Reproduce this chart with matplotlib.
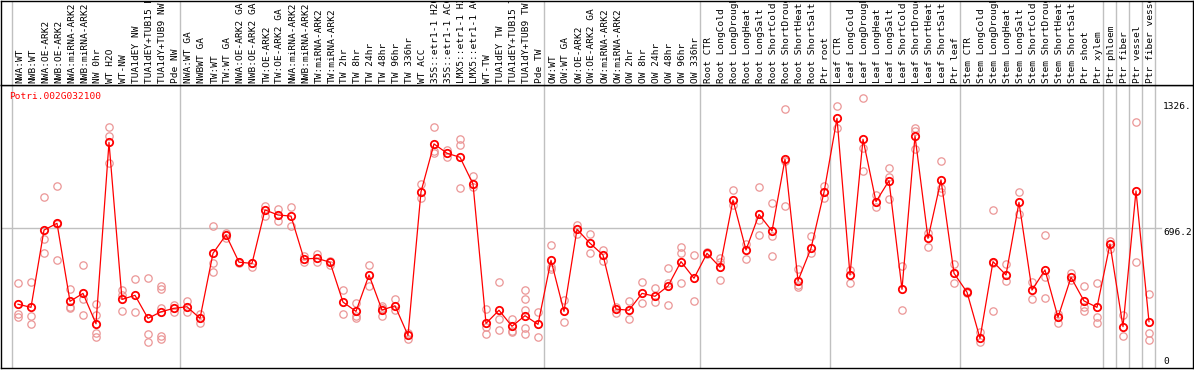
import matplotlib
matplotlib.use('Agg')
import matplotlib.pyplot as plt
import numpy as np

labels = [
    "NWA:WT", "NWB:WT", "NWA:OE-ARK2", "NWB:OE-ARK2", "NWA:miRNA-ARK2", "NWB:miRNA-ARK2",
    "NW 0hr", "WT H2O", "WT-NW", "TUA1dEY NW", "TUA1dEY+TUB15 NW", "TUA1dY+TUB9 NW", "Pde NW",
    "NWA:WT GA", "NWBWT GA", "TW:WT", "TW:WT GA", "NWA:OE-ARK2 GA", "NWB:OE-ARK2 GA",
    "TW:OE-ARK2", "TW:OE-ARK2 GA", "NWA:miRNA-ARK2", "NWB:miRNA-ARK2", "TW:miRNA-ARK2",
    "TW:miRNA-ARK2", "TW 2hr", "TW 8hr", "TW 24hr", "TW 48hr", "TW 96hr", "TW 336hr", "WT ACC",
    "35S::etr1-1 H2O", "35S::etr1-1 ACC", "LMX5::etr1-1 H2O", "LMX5::etr1-1 ACC", "WT-TW",
    "TUA1dEY TW", "TUA1dEY+TUB15 TW", "TUA1dY+TUB9 TW", "Pde TW",
    "OW:WT", "OW:WT GA", "OW:OE-ARK2", "OW:OE-ARK2 GA", "OW:miRNA-ARK2", "OW:miRNA-ARK2",
    "OW 2hr", "OW 8hr", "OW 24hr", "OW 48hr", "OW 96hr", "OW 336hr",
    "Root CTR", "Root LongCold", "Root LongDrought", "Root LongHeat", "Root LongSalt",
    "Root ShortCold", "Root ShortDrought", "Root ShortHeat", "Root ShortSalt", "Ptr root",
    "Leaf CTR", "Leaf LongCold", "Leaf LongDrought", "Leaf LongHeat", "Leaf LongSalt",
    "Leaf ShortCold", "Leaf ShortDrought", "Leaf ShortHeat", "Leaf ShortSalt", "Ptr leaf",
    "Stem CTR", "Stem LongCold", "Stem LongDrought", "Stem LongHeat", "Stem LongSalt",
    "Stem ShortCold", "Stem ShortDrought", "Stem ShortHeat", "Stem ShortSalt", "Ptr shoot",
    "Ptr xylem", "Ptr phloem", "Ptr fiber", "Ptr vessel", "Ptr fiber vessel",
]

group_sizes = [13, 28, 12, 10, 10, 11, 1, 1, 1, 1]

means = [
    301, 285, 684, 719, 316, 357, 200, 1137, 326, 347, 228, 262, 280,
    288, 228, 564, 659, 518, 512, 788, 762, 756, 535, 538, 518, 312, 264, 452, 271, 293,
    140, 882, 1129, 1081, 1060, 922, 202, 270, 187, 242, 197,
    528, 264, 688, 616, 555, 276, 270, 357, 342, 395, 521, 435,
    564, 492, 839, 581, 765, 679, 1050, 422, 590, 879,
    1261, 452, 1153, 831, 939, 378, 1170, 641, 943, 461,
    363, 125, 521, 452, 827, 374, 478, 233, 440, 318, 285,
    612, 185, 886, 211,
]

replicates = [
    [409, 250, 237], [414, 242, 197], [853, 638, 564], [913, 528, 716], [380, 288, 283],
    [502, 328, 244], [301, 245, 154, 132], [1215, 1170, 1029], [373, 349, 264], [430, 259],
    [435, 146, 104], [397, 378, 280, 138, 123], [297, 262],
    [319, 262], [250, 202], [705, 512, 469], [670, 645], [521, 512], [512, 495],
    [810, 757], [793, 731], [803, 703], [552, 518], [559, 518], [526, 504],
    [374, 249], [306, 240, 231], [504, 395], [292, 280, 242], [326, 271], [151, 121],
    [922, 848], [1215, 1092, 1081], [1098, 1063], [1153, 1123, 900], [963, 904],
    [278, 185, 146], [414, 223, 166], [223, 164, 156], [373, 330, 271, 180, 146], [259, 133],
    [605, 495, 483], [323, 208], [710, 664], [662, 564], [581, 526], [285, 257],
    [318, 223], [414, 306], [383, 314], [487, 409, 297], [598, 564, 409], [555, 318],
    [569, 560], [541, 518, 425], [891, 813], [612, 533], [905, 736, 659], [822, 655, 550],
    [1308, 1041, 808], [481, 400, 388], [653, 564], [913, 848],
    [1325, 1210], [478, 409], [1365, 1106, 989], [865, 802], [1003, 957, 843], [498, 271],
    [1213, 1196, 1101], [667, 598], [1041, 900, 882], [509, 409],
    [369, 357], [159, 107], [786, 266, 515], [509, 421], [879, 767], [414, 326],
    [659, 443, 332], [250, 202], [464, 426], [395, 288, 268], [409, 237, 202],
    [629, 586], [245, 138], [1244, 521], [354, 154, 116],
]

title = "Potri.002G032100"
ytick_texts = ["1326.", "696.2", "0"]
grid_value = 696.2

W, H = 1194, 370
fig = plt.figure(figsize=(W / 100, H / 100), dpi=100)


def fx(px):
    return px / W


def fy(py):
    return 1 - py / H


xmin, xmax = -1.3077, 90.385
mono = 'DejaVu Sans Mono'

ax = fig.add_axes([fx(1), fy(368), fx(1193) - fx(1), fy(85) - fy(368)])
hx = fig.add_axes([fx(1), fy(85), fx(1193) - fx(1), fy(0.5) - fy(85)])

for a in (ax, hx):
    a.set_xlim(xmin, xmax)
    a.set_xticks([])
    a.set_yticks([])
    for s in a.spines.values():
        s.set_color('black')
        s.set_linewidth(1.0)
hx.set_ylim(0, 1)
ax.set_ylim(-28.4, 1433.3)

bounds = [-0.5] + list(np.cumsum(group_sizes) - 0.5)
for b in bounds:
    ax.axvline(b, color='#c0c0c0', lw=1.0, zorder=1)
    hx.axvline(b, color='#c0c0c0', lw=1.0, zorder=1)

ax.plot([xmin, 87.92], [grid_value, grid_value], color='#c0c0c0', lw=1.0, zorder=1)

xs = np.arange(len(labels))
rx, ry = [], []
for i, r in enumerate(replicates):
    rx += [i] * len(r)
    ry += r
ax.plot(rx, ry, linestyle='none', marker='o', ms=5.3, mfc='none', mec='#eb9696', mew=0.9, zorder=2)
ax.plot(xs, means, color='red', lw=0.9, zorder=3)
ax.plot(xs, means, linestyle='none', marker='o', ms=5.3, mfc='none', mec='red', mew=1.3, zorder=4)

for i, lab in enumerate(labels):
    hx.text(i + 0.15, 2 / 85, lab, rotation=90, rotation_mode='anchor', ha='left', va='center',
            fontfamily=mono, fontsize=6.8, color='black', clip_on=True)

fig.text(fx(9), fy(92), title, color='red', ha='left', va='top', fontfamily=mono, fontsize=6.8)

fig.text(fx(1163), fy(106.7), ytick_texts[0], ha='left', va='center', fontfamily=mono, fontsize=6.8)
fig.text(fx(1163), fy(232.7), ytick_texts[1], ha='left', va='center', fontfamily=mono, fontsize=6.8)
fig.text(fx(1163), fy(361.7), ytick_texts[2], ha='left', va='center', fontfamily=mono, fontsize=6.8)

fig.savefig('out.png', dpi=100)
